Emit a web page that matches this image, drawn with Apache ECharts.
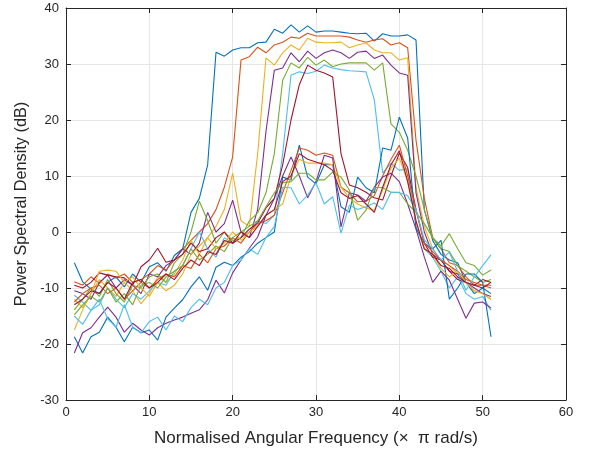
<!DOCTYPE html>
<html>
<head>
<meta charset="utf-8">
<script src="https://cdn.jsdelivr.net/npm/echarts@6/dist/echarts.min.js"></script>
<style>
  html, body { margin: 0; padding: 0; background: #fff; }
  #main { width: 593px; height: 454px; }
</style>
</head>
<body>
<div id="main"></div>
<script>
// frequency bins 1..51
var bins = [];
for (var i = 1; i <= 51; i++) bins.push(i);

var xTicks = [0, 10, 20, 30, 40, 50, 60];
var yTicks = [-30, -20, -10, 0, 10, 20, 30, 40];

// matlab default colour order, used twice
var colors = ['#0072BD', '#D95319', '#EDB120', '#7E2F8E', '#77AC30', '#4DBEEE', '#A2142F'];

// wide band ones (plateaus)
var psd1 = [-5.5, -8.9, -10.2, -11, -9, -8, -9.8, -7.5, -9, -6.2,
  -5.5, -7, -4.2, -3, 3.5, 6, 12, 32.1, 31.4, 32.5,
  32.9, 32.9, 33.8, 33.9, 36.2, 35.5, 37, 35.7, 36.8, 35.7,
  35.9, 35.9, 35.7, 35.5, 35.4, 35.5, 34.1, 35.4, 35, 35,
  35.2, 34.3, 4, -1.5, -4, -5, -5.5, -9, -11, -10, -11];
var psd2 = [-8.9, -9.5, -8, -9.2, -7.5, -8.2, -7.5, -9, -8.5, -7.5,
  -6, -6.8, -5, -3, -1.5, 0, 1.5, 4, 8, 13.4,
  30.7, 31.3, 33, 32, 33.4, 33.9, 34.8, 34.6, 35.5, 35,
  35, 35, 35, 34.8, 34.3, 33.9, 34.3, 34.5, 33.4, 33.8,
  32.9, 16.4, 6, -1, -3, -5.5, -6, -8, -9.5, -9.5, -10];
var psd3 = [-12, -13.5, -11, -8.5, -10, -11.5, -9, -10.5, -12.8, -11,
  -8, -9, -7.5, -5, -1.5, -4, -1, 1, 4, 10.5,
  2, 1, 14, 31.1, 29.8, 32, 33.4, 32.5, 34.6, 33.9,
  33.8, 33.8, 33.9, 32.9, 33.4, 33.8, 32.5, 32, 32, 30.7,
  31.1, 8, 1, -3, -5, -6, -7.5, -9, -10.5, -11, -12];
var psd4 = [-10.5, -11, -12, -9, -7.7, -10, -8.5, -9.5, -11, -7.5,
  -8, -6, -5, -3, -4, -2, 3.5, 0, 1.5, 5.7,
  0, -1, 4, 18, 28.9, 29.3, 32, 30.4, 32.3, 31,
  32, 32.5, 32, 31, 32.1, 32.3, 31, 31.6, 29.8, 28.4,
  28, 7, 0, -4, -5, -7, -7.5, -9, -10, -11, -11.5];
var psd5 = [-13.9, -12, -10, -11.5, -8.5, -11, -12.5, -9.5, -10, -8,
  -7.5, -9, -5.5, -4, 0, 5.5, 2, -2, 0, -1.5,
  -1, 2, 3.4, 7, 14, 27.1, 30.2, 29.3, 31.2, 29.8,
  30.7, 29.5, 30, 30.2, 30.2, 30.2, 28.9, 30.2, 19.3, 17.8,
  14.6, 10, 4, -1, -3, -3.5, -6, -7, -8, -9, -8.5];
var psd6 = [-11.3, -12.5, -14, -13, -10, -12, -13.5, -11, -12, -10.5,
  -9, -9.5, -7, -6, -3, 0, -3, -4.5, -1, -2,
  -1, 0, 2, 1.5, 3, 14, 28, 28.6, 28.3, 28.7,
  29.8, 29.3, 29, 28.8, 28.7, 28.6, 23.6, 10.5, 12.3, 11,
  11.3, 1, -3, -4.5, -7, -10, -8, -11, -12, -11.5, -14];
var psd7 = [-9.5, -10, -9, -7.3, -7.7, -8, -8.2, -9.5, -6.2, -5,
  -2.9, -5.4, -5, -4, -2, -3.5, -3, -1, 0, -2,
  -1, 0.5, 1.6, 4.3, 6, 12, 20, 26.3, 29.8, 28.9,
  28.4, 27.7, 14, 8.4, 7.9, 7.1, 6.1, 5.7, 10, 14.1,
  11.5, 4, -2, -4.5, -5, -7, -8.5, -9, -9.5, -8.5, -9];

// narrow / low ones
var psd8 = [-18.7, -21.6, -18.7, -17.9, -15.2, -17, -19.6, -17, -18, -17.5,
  -19.3, -15.2, -13.6, -12.1, -9.8, -8, -10.4, -6.3, -5.4, -6,
  -4.5, -3.5, -2, -1, 0, 9.8, 9.3, 15.5, 9.8, 8.6,
  12, 12, 4.5, 3.5, 9.8, 7.9, 7, 15, 14.6, 20.5,
  16.8, 0.7, -2, -3, -1.5, -12, -10, -7.5, -7.5, -9, -18.7];
var psd9 = [-12.5, -11, -10, -9.5, -11, -10, -12, -10.5, -9, -10,
  -8.5, -7.5, -8, -6, -6.5, -4, -5.5, -3, -2.5, -1,
  -2, 0, 1.5, 2, 3, 7, 11, 15, 14.6, 13.7,
  14.1, 13.7, 8, 7, 5.4, 5.5, 6.5, 10, 13, 15.5,
  10, 4, -2, -3.5, -5, -6, -7, -8.5, -9, -9.5, -9.5];
var psd10 = [-17.5, -13.9, -11, -7, -6.8, -7, -9, -8, -10, -11.5,
  -9, -10.5, -9.5, -7.5, -4, -2.5, -1, -3, -2, 0,
  -1.5, 0, 1, 3, 4, 5, 10, 13, 12.3, 12.3,
  12.3, 12, 8, 6.1, 5, 4.3, 3.9, 7.5, 11.4, 13.2,
  9, 2, -3, -4, -6.5, -8, -7, -9, -10.5, -11, -12];
var psd11 = [-21.6, -18, -17.1, -15.2, -13.4, -15.2, -17.9, -16.3, -17.5, -18.4,
  -17.1, -16.3, -15.7, -15.2, -14.5, -13.9, -12.1, -8.6, -10.9, -7.3,
  -5, -2.9, -0.9, 3, 6, 10, 13.4, 10, 6.1, 9,
  13.7, 13.2, 0.9, 7, 6.6, 5.5, 8, 9.8, 10.5, 9,
  5, 0.5, -4.5, -9, -7, -8.6, -12, -15.4, -12.7, -12.5, -13.6];
var psd12 = [-14.8, -13, -11.5, -12.5, -10, -12.5, -11, -13, -9.5, -9,
  -10, -8, -7, -6, -3, -5, -4, -2.5, -3.5, -1,
  0, 1, 2, 4.5, 7, 8.8, 9, 10.5, 10.5, 9.3,
  9.3, 10.7, 9.8, 7.5, 2.1, 3.9, 8, 7.9, 7.1, 7.1,
  5, 3.5, 1.5, -1, -2.5, -0.3, -3, -5.5, -6, -7.7, -6.8];
var psd13 = [-15, -16.5, -14, -12, -15.5, -17, -13, -17, -18, -16,
  -15.2, -17.5, -15, -16, -13.5, -12, -13, -10, -9, -6,
  -5, -3, -4, -1, 1, 8, 7.9, 5, 6.6, 8.8,
  5, 6.3, -0.2, 4.8, 4, 4.5, 5.2, 4, 7.1, 7,
  6.5, 4, -1.4, -3, -5, -3.6, -7, -10.4, -8, -6, -4.1];
var psd14 = [-13, -12, -10.5, -11, -9, -10, -12, -9, -8.5, -10,
  -9, -7.5, -8.5, -6.5, -5, -6, -3.5, -4, -1.5, -2,
  0, -1, 1, 3, 4, 9, 10, 14, 13, 12.5,
  12, 11, 7, 6, 6.5, 5, 3.5, 8, 12, 14.5,
  9, 2, -3, -4, -6, -6.5, -8, -9, -9.5, -10, -9];

var allPsd = [psd1, psd2, psd3, psd4, psd5, psd6, psd7,
  psd8, psd9, psd10, psd11, psd12, psd13, psd14];

var txt = '#262626';
var fnt = '"Liberation Sans", Arial, Helvetica, sans-serif';

var series = allPsd.map(function (vals, idx) {
  return {
    type: 'line',
    data: vals.map(function (v, j) { return [bins[j], v]; }),
    showSymbol: false,
    symbol: 'none',
    lineStyle: { width: 1.1, color: colors[idx % 7] },
    itemStyle: { color: colors[idx % 7] },
    z: 2
  };
});

var myChart = echarts.init(document.getElementById('main'), null, { renderer: 'canvas' });
myChart.setOption({
  animation: false,
  backgroundColor: '#fff',
  grid: { left: 66, top: 8, right: 27, bottom: 54 },
  xAxis: [{
    type: 'value', min: xTicks[0], max: xTicks[xTicks.length - 1], interval: 10,
    position: 'bottom',
    name: 'Normalised Angular Frequency (×  π rad/s)',
    nameLocation: 'middle', nameGap: 30,
    nameTextStyle: { color: txt, fontSize: 17, fontFamily: fnt },
    axisLine: { onZero: false, lineStyle: { color: txt, width: 1 } },
    axisTick: { inside: true, length: 5, lineStyle: { color: txt } },
    axisLabel: { color: txt, fontSize: 13, fontFamily: fnt, margin: 6 },
    splitLine: { show: true, lineStyle: { color: '#e6e6e6', width: 1 } }
  }, {
    type: 'value', min: xTicks[0], max: xTicks[xTicks.length - 1], interval: 10,
    position: 'top',
    axisLine: { onZero: false, lineStyle: { color: txt, width: 1 } },
    axisTick: { inside: true, length: 5, lineStyle: { color: txt } },
    axisLabel: { show: false },
    splitLine: { show: false }
  }],
  yAxis: [{
    type: 'value', min: yTicks[0], max: yTicks[yTicks.length - 1], interval: 10,
    position: 'left',
    name: 'Power Spectral Density (dB)',
    nameLocation: 'middle', nameGap: 34,
    nameTextStyle: { color: txt, fontSize: 16.3, fontFamily: fnt },
    axisLine: { show: true, onZero: false, lineStyle: { color: txt, width: 1 } },
    axisTick: { show: true, inside: true, length: 5, lineStyle: { color: txt } },
    axisLabel: { color: txt, fontSize: 13, fontFamily: fnt, margin: 7 },
    splitLine: { show: true, lineStyle: { color: '#e6e6e6', width: 1 } }
  }, {
    type: 'value', min: yTicks[0], max: yTicks[yTicks.length - 1], interval: 10,
    position: 'right',
    axisLine: { show: true, onZero: false, lineStyle: { color: txt, width: 1 } },
    axisTick: { show: true, inside: true, length: 5, lineStyle: { color: txt } },
    axisLabel: { show: false },
    splitLine: { show: false }
  }],
  series: series
});
</script>
</body>
</html>
